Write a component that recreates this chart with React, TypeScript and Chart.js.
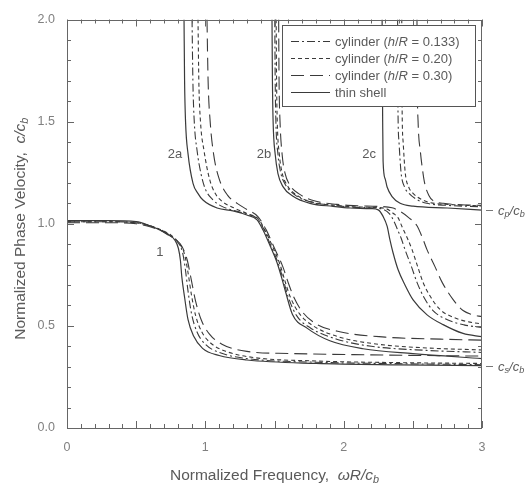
import React, { useEffect, useRef } from "react";
import { Chart, registerables } from "chart.js";

Chart.register(...registerables);

type P = [number, number];
type Seg = { t: string; it?: boolean; sub?: boolean };

// ---- tick labels ----
const xTickLabels = ["0", "1", "2", "3"];
const yTickLabels = ["0.0", "0.5", "1.0", "1.5", "2.0"];

// ---- series labels (legend) ----
const seriesLabels = [
  "cylinder (h/R = 0.133)",
  "cylinder (h/R = 0.20)",
  "cylinder (h/R = 0.30)",
  "thin shell",
];

// ---- mode 1 ----
const m1H133: P[] = [[0,1.01],[0.3,1.01],[0.5,1.005],[0.6,0.99],[0.68,0.97],[0.74,0.945],[0.8,0.91],[0.835,0.86],[0.855,0.78],[0.875,0.67],[0.9,0.56],[0.94,0.47],[1.0,0.41],[1.1,0.37],[1.3,0.34],[1.8,0.322],[2.4,0.315],[3.0,0.31]];
const m1H20: P[] = [[0,1.01],[0.3,1.01],[0.5,1.005],[0.6,0.99],[0.68,0.97],[0.75,0.945],[0.81,0.905],[0.85,0.85],[0.875,0.76],[0.9,0.65],[0.93,0.55],[0.975,0.47],[1.04,0.415],[1.15,0.375],[1.35,0.345],[1.8,0.328],[2.4,0.32],[3.0,0.316]];
const m1H30: P[] = [[0,1.005],[0.3,1.005],[0.5,1.0],[0.6,0.985],[0.7,0.96],[0.77,0.93],[0.83,0.89],[0.87,0.82],[0.9,0.72],[0.93,0.62],[0.97,0.53],[1.03,0.46],[1.12,0.41],[1.3,0.375],[1.6,0.365],[2.2,0.358],[3.0,0.352]];
const m1Shell: P[] = [[0,1.015],[0.3,1.015],[0.5,1.01],[0.6,0.99],[0.67,0.97],[0.72,0.95],[0.78,0.92],[0.805,0.88],[0.82,0.82],[0.83,0.74],[0.85,0.64],[0.875,0.53],[0.915,0.45],[0.98,0.39],[1.1,0.355],[1.3,0.333],[1.8,0.316],[2.4,0.309],[3.0,0.305]];

// ---- mode 2a ----
const m2aH133: P[] = [[0.904,2.0],[0.91,1.7],[0.92,1.5],[0.94,1.36],[0.97,1.24],[1.0,1.17],[1.05,1.12],[1.12,1.085],[1.2,1.066],[1.3,1.047],[1.38,1.022],[1.425,0.97],[1.475,0.89],[1.53,0.8],[1.57,0.71],[1.6,0.64],[1.66,0.55],[1.76,0.49],[1.95,0.435],[2.2,0.4],[2.6,0.38],[3.0,0.37]];
const m2aH20: P[] = [[0.947,2.0],[0.953,1.7],[0.965,1.5],[0.99,1.36],[1.03,1.22],[1.07,1.15],[1.12,1.11],[1.2,1.08],[1.3,1.05],[1.385,1.022],[1.43,0.97],[1.485,0.89],[1.54,0.8],[1.58,0.71],[1.615,0.64],[1.68,0.56],[1.78,0.5],[1.97,0.445],[2.25,0.41],[2.6,0.392],[3.0,0.382]];
const m2aH30: P[] = [[1.012,2.0],[1.02,1.7],[1.035,1.5],[1.06,1.34],[1.1,1.22],[1.16,1.14],[1.23,1.1],[1.3,1.07],[1.38,1.035],[1.44,0.97],[1.5,0.88],[1.56,0.79],[1.6,0.71],[1.64,0.64],[1.7,0.57],[1.8,0.51],[1.98,0.47],[2.3,0.445],[2.7,0.435],[3.0,0.43]];
const m2aShell: P[] = [[0.846,2.0],[0.85,1.7],[0.857,1.5],[0.875,1.342],[0.911,1.198],[0.945,1.15],[0.983,1.116],[1.085,1.077],[1.2,1.063],[1.3,1.043],[1.374,1.019],[1.417,0.969],[1.468,0.892],[1.518,0.81],[1.555,0.728],[1.58,0.667],[1.63,0.556],[1.735,0.489],[1.9,0.427],[2.14,0.388],[2.5,0.364],[3.0,0.34]];

// ---- mode 2b ----
const m2bH133: P[] = [[1.502,2.0],[1.505,1.7],[1.51,1.5],[1.525,1.34],[1.545,1.25],[1.58,1.19],[1.65,1.14],[1.77,1.105],[1.93,1.09],[2.05,1.082],[2.2,1.078],[2.28,1.072],[2.33,1.05],[2.365,1.01],[2.39,0.97],[2.415,0.93],[2.444,0.872],[2.49,0.79],[2.53,0.713],[2.58,0.64],[2.646,0.575],[2.75,0.53],[2.87,0.505],[3.0,0.492]];
const m2bH20: P[] = [[1.512,2.0],[1.515,1.7],[1.52,1.5],[1.535,1.34],[1.555,1.25],[1.59,1.19],[1.66,1.14],[1.78,1.105],[1.94,1.09],[2.06,1.083],[2.22,1.08],[2.31,1.073],[2.36,1.05],[2.393,1.03],[2.422,0.985],[2.46,0.93],[2.495,0.872],[2.535,0.79],[2.574,0.713],[2.63,0.64],[2.697,0.58],[2.8,0.54],[2.9,0.52],[3.0,0.51]];
const m2bH30: P[] = [[1.53,2.0],[1.533,1.7],[1.54,1.5],[1.555,1.34],[1.575,1.25],[1.61,1.19],[1.68,1.145],[1.8,1.11],[1.95,1.095],[2.1,1.088],[2.25,1.085],[2.35,1.078],[2.41,1.06],[2.47,1.03],[2.53,0.99],[2.57,0.93],[2.603,0.872],[2.66,0.79],[2.712,0.713],[2.79,0.63],[2.863,0.575],[2.93,0.555],[3.0,0.545]];
const m2bShell: P[] = [[1.482,2.0],[1.485,1.7],[1.49,1.5],[1.505,1.34],[1.525,1.246],[1.56,1.183],[1.634,1.135],[1.757,1.1],[1.923,1.085],[2.046,1.077],[2.2,1.074],[2.25,1.068],[2.285,1.036],[2.314,0.988],[2.335,0.92],[2.357,0.858],[2.393,0.776],[2.444,0.699],[2.502,0.627],[2.603,0.554],[2.719,0.506],[2.863,0.463],[3.0,0.447]];

// ---- mode 2c ----
const m2cH133: P[] = [[2.39,2.0],[2.392,1.6],[2.4,1.4],[2.415,1.25],[2.44,1.18],[2.47,1.15],[2.53,1.118],[2.6,1.1],[2.75,1.09],[3.0,1.083]];
const m2cH20: P[] = [[2.42,2.0],[2.422,1.6],[2.43,1.4],[2.445,1.25],[2.47,1.18],[2.5,1.15],[2.56,1.12],[2.63,1.103],[2.8,1.093],[3.0,1.087]];
const m2cH30: P[] = [[2.53,2.0],[2.532,1.7],[2.538,1.5],[2.555,1.35],[2.567,1.28],[2.585,1.2],[2.615,1.14],[2.646,1.113],[2.72,1.1],[2.85,1.093],[3.0,1.09]];
const m2cShell: P[] = [[2.278,2.0],[2.28,1.7],[2.282,1.5],[2.285,1.306],[2.3,1.22],[2.314,1.18],[2.35,1.133],[2.408,1.1],[2.502,1.086],[2.75,1.077],[3.0,1.067]];

// ---- mode labels ----
const modeLabels = ["1", "2a", "2b", "2c"];
const modeLabelX = [0.672, 0.78, 1.424, 2.184];
const modeLabelY = [0.858, 1.34, 1.34, 1.34];

// ---- reference velocity levels (right side) ----
const refNames = ["p", "s"];
const refValues = [1.067, 0.303];

const groups: P[][][] = [
  [m1H133, m1H20, m1H30, m1Shell],
  [m2aH133, m2aH20, m2aH30, m2aShell],
  [m2bH133, m2bH20, m2bH30, m2bShell],
  [m2cH133, m2cH20, m2cH30, m2cShell],
];

const DASHES: number[][] = [[8, 3, 2, 3], [4, 3], [13, 6], []];
const LINE = "#3a3a3a";
const TEXT = "#5a5a5a";
const FAM = '"Liberation Sans", Arial, Helvetica, sans-serif';

function setFont(ctx: CanvasRenderingContext2D, s: Seg, size: number) {
  const fs = s.sub ? size * 0.7 : size;
  ctx.font = `${s.it ? "italic " : ""}${fs}px ${FAM}`;
}
function segsWidth(ctx: CanvasRenderingContext2D, segs: Seg[], size: number) {
  let w = 0;
  for (const s of segs) {
    setFont(ctx, s, size);
    w += ctx.measureText(s.t).width;
  }
  return w;
}
function drawSegs(ctx: CanvasRenderingContext2D, segs: Seg[], x: number, y: number, size: number) {
  let cx = x;
  ctx.textAlign = "left";
  ctx.textBaseline = "alphabetic";
  for (const s of segs) {
    setFont(ctx, s, size);
    ctx.fillText(s.t, cx, s.sub ? y + size * 0.22 : y);
    cx += ctx.measureText(s.t).width;
  }
}
function labelSegs(s: string): Seg[] {
  const i = s.indexOf("h/R");
  if (i < 0) return [{ t: s }];
  return [
    { t: s.slice(0, i) },
    { t: "h", it: true },
    { t: "/" },
    { t: "R", it: true },
    { t: s.slice(i + 3) },
  ];
}

const xTitle: Seg[] = [
  { t: "Normalized Frequency,  " },
  { t: "\u03c9R/c", it: true },
  { t: "b", it: true, sub: true },
];
const yTitle: Seg[] = [
  { t: "Normalized Phase Velocity,  " },
  { t: "c/c", it: true },
  { t: "b", it: true, sub: true },
];

const decor = {
  id: "decor",
  afterDraw(chart: any) {
    const { ctx, chartArea: a, scales } = chart;
    const xs = scales.x;
    const ys = scales.y;
    ctx.save();
    // frame
    ctx.strokeStyle = "#666";
    ctx.lineWidth = 1;
    ctx.setLineDash([]);
    ctx.strokeRect(Math.round(a.left) + 0.5, Math.round(a.top) + 0.5, Math.round(a.right - a.left) - 1, Math.round(a.bottom - a.top) - 1);
    // inward ticks
    ctx.beginPath();
    for (let i = 0; i <= 30; i++) {
      const px = Math.round(xs.getPixelForValue(i / 10)) + 0.5;
      const len = i % 5 === 0 ? 7 : 4;
      ctx.moveTo(px, a.bottom);
      ctx.lineTo(px, a.bottom - len);
      ctx.moveTo(px, a.top);
      ctx.lineTo(px, a.top + len);
    }
    for (let i = 0; i <= 20; i++) {
      const py = Math.round(ys.getPixelForValue(i / 10)) + 0.5;
      const len = i % 5 === 0 ? 7 : 4;
      ctx.moveTo(a.left, py);
      ctx.lineTo(a.left + len, py);
      ctx.moveTo(a.right, py);
      ctx.lineTo(a.right - len, py);
    }
    ctx.stroke();

    // mode labels
    ctx.fillStyle = TEXT;
    ctx.font = `13px ${FAM}`;
    ctx.textAlign = "center";
    ctx.textBaseline = "middle";
    modeLabels.forEach((l, i) => {
      ctx.fillText(l, xs.getPixelForValue(modeLabelX[i]), ys.getPixelForValue(modeLabelY[i]));
    });

    // reference levels
    refNames.forEach((n, i) => {
      const py = Math.round(ys.getPixelForValue(refValues[i])) + 0.5;
      ctx.strokeStyle = "#777";
      ctx.beginPath();
      ctx.moveTo(a.right + 4, py);
      ctx.lineTo(a.right + 11, py);
      ctx.stroke();
      ctx.fillStyle = TEXT;
      drawSegs(ctx, [
        { t: "c", it: true },
        { t: n, it: true, sub: true },
        { t: "/", it: true },
        { t: "c", it: true },
        { t: "b", it: true, sub: true },
      ], a.right + 16, py + 4, 13);
    });

    // legend
    const bx = 282, by = 25, bw = 193, bh = 81;
    ctx.fillStyle = "#fff";
    ctx.fillRect(bx, by, bw, bh);
    ctx.strokeStyle = "#555";
    ctx.lineWidth = 1;
    ctx.setLineDash([]);
    ctx.strokeRect(bx + 0.5, by + 0.5, bw, bh);
    const rows = [41.5, 58.5, 75.5, 92.5];
    seriesLabels.forEach((lab, k) => {
      ctx.strokeStyle = LINE;
      ctx.lineWidth = 1.1;
      ctx.setLineDash(DASHES[k]);
      ctx.beginPath();
      ctx.moveTo(291, rows[k]);
      ctx.lineTo(330, rows[k]);
      ctx.stroke();
      ctx.setLineDash([]);
      ctx.fillStyle = TEXT;
      drawSegs(ctx, labelSegs(lab), 335, rows[k] + 4.5, 13);
    });

    // axis titles
    ctx.fillStyle = TEXT;
    const fs = 15.5;
    const cx = (a.left + a.right) / 2;
    const wx = segsWidth(ctx, xTitle, fs);
    drawSegs(ctx, xTitle, cx - wx / 2, 480, fs);
    const cy = (a.top + a.bottom) / 2 + 5;
    const wy = segsWidth(ctx, yTitle, fs);
    ctx.translate(25, cy);
    ctx.rotate(-Math.PI / 2);
    drawSegs(ctx, yTitle, -wy / 2, 0, fs);
    ctx.restore();
  },
};

export default function App() {
  const ref = useRef<HTMLCanvasElement | null>(null);
  useEffect(() => {
    if (!ref.current) return;
    const datasets: any[] = [];
    groups.forEach((g) => {
      g.forEach((pts, k) => {
        datasets.push({
          data: pts.map(([x, y]) => ({ x, y })),
          borderColor: LINE,
          borderWidth: k === 3 ? 1.2 : 1.1,
          borderDash: DASHES[k],
          pointRadius: 0,
          fill: false,
          cubicInterpolationMode: "monotone",
        });
      });
    });
    const chart = new Chart(ref.current, {
      type: "line",
      data: { datasets },
      options: {
        animation: false,
        responsive: false,
        maintainAspectRatio: false,
        events: [],
        layout: { padding: { left: 0, top: 13, right: 46, bottom: 0 } },
        plugins: { legend: { display: false }, tooltip: { enabled: false } },
        scales: {
          x: {
            type: "linear",
            min: 0,
            max: 3,
            afterFit: (s: any) => { s.height = 59; },
            grid: { display: false, drawTicks: false },
            border: { display: false },
            ticks: {
              stepSize: 1,
              padding: 12,
              color: "#808080",
              font: { family: FAM, size: 12.5 },
              callback: (_v: any, i: number) => xTickLabels[i],
            },
          },
          y: {
            type: "linear",
            min: 0,
            max: 2,
            afterFit: (s: any) => { s.width = 67; },
            grid: { display: false, drawTicks: false },
            border: { display: false },
            ticks: {
              stepSize: 0.5,
              padding: 12,
              color: "#808080",
              font: { family: FAM, size: 12.5 },
              callback: (_v: any, i: number) => yTickLabels[i],
            },
          },
        },
      },
      plugins: [decor],
    });
    return () => chart.destroy();
  }, []);
  return (
    <div style={{ position: "fixed", left: 0, top: 0, width: 528, height: 487, background: "#fff" }}>
      <canvas ref={ref} width={528} height={487} />
    </div>
  );
}
